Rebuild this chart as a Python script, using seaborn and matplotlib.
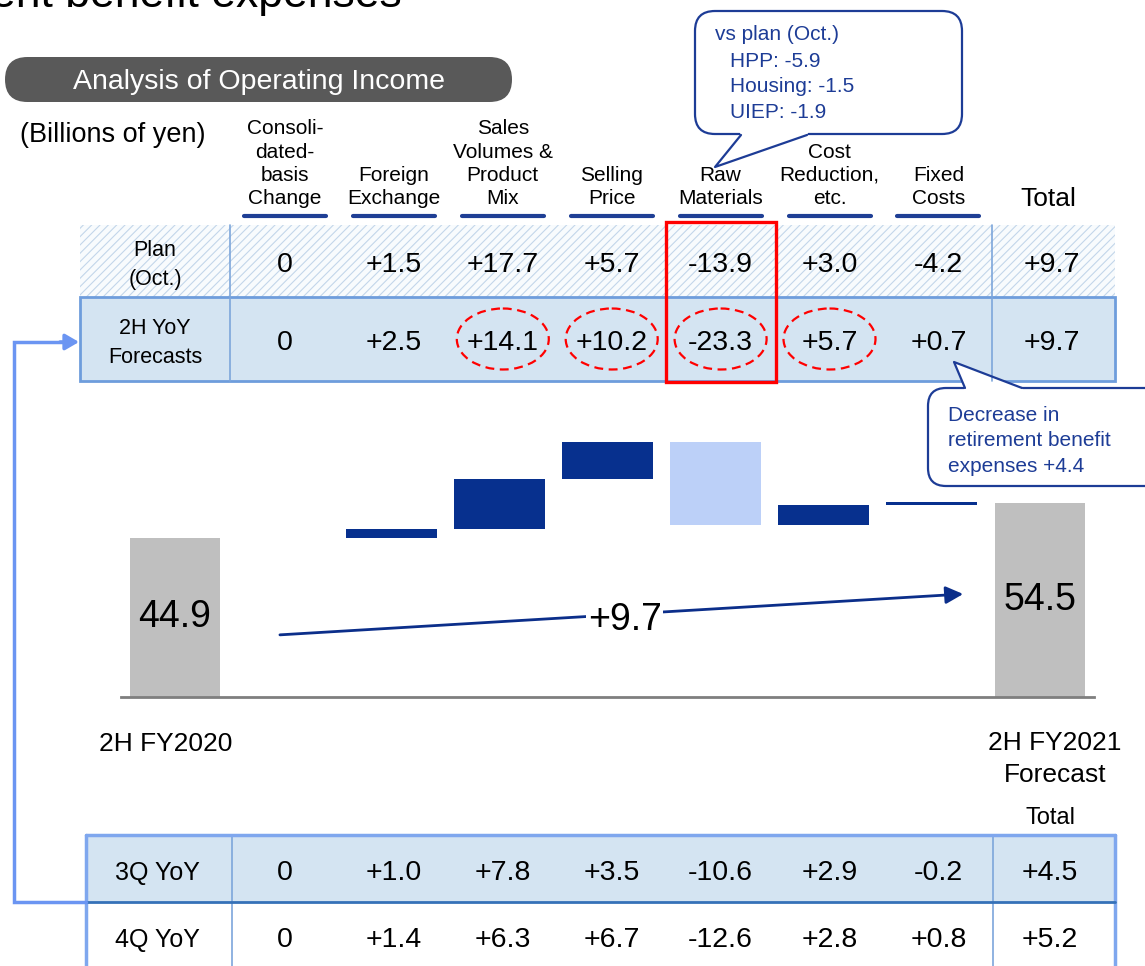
import numpy as np
import matplotlib
matplotlib.use("Agg")
import matplotlib.pyplot as plt
from matplotlib.patches import FancyBboxPatch, Rectangle, Ellipse, Polygon
import seaborn as sns

# Analysis of operating income (billions of yen)
factors = ["Consoli-\ndated-\nbasis\nChange", "Foreign\nExchange", "Sales\nVolumes &\nProduct\nMix",
           "Selling\nPrice", "Raw\nMaterials", "Cost\nReduction,\netc.", "Fixed\nCosts"]
plan_oct = [0, 1.5, 17.7, 5.7, -13.9, 3.0, -4.2]
plan_total = 9.7
yoy_2h = [0, 2.5, 14.1, 10.2, -23.3, 5.7, 0.7]
total_2h = 9.7
yoy_3q = [0, 1.0, 7.8, 3.5, -10.6, 2.9, -0.2]
total_3q = 4.5
yoy_4q = [0, 1.4, 6.3, 6.7, -12.6, 2.8, 0.8]
total_4q = 5.2
fy2020_2h = 44.9
fy2021_2h = 54.5
circled = [2, 3, 4, 5]
boxed = 4
vs_plan = ["HPP: -5.9", "Housing: -1.5", "UIEP: -1.9"]
retire_note = "Decrease in\nretirement benefit\nexpenses +4.4"

NAVY = "#07308E"
LIGHT = "#BCD0F8"
GRAY = "#BFBFBF"
CALLOUT = "#1D3C96"
ROW_FILL = "#D4E4F2"
ROW_EDGE = "#6E9DDC"
LINK = "#6B95F2"


def fmt(v):
    return "0" if v == 0 else f"{v:+.1f}"


def tx(i):
    # column centre of the tables, in pixels
    return 285 + 108.9 * i


sns.set_theme(style="white")
plt.rcParams["font.family"] = ["Liberation Sans", "DejaVu Sans"]
plt.rcParams["text.color"] = "black"
plt.rcParams["hatch.linewidth"] = 0.8

W, H = 1145, 966
fig = plt.figure(figsize=(W / 100, H / 100), dpi=100)

# ---- waterfall ----
wf = fig.add_axes([121 / W, (H - 697) / H, 973 / W, 277 / H])
stages = ["2H FY2020"] + [f.replace("\n", " ") for f in factors] + ["2H FY2021 Forecast"]
steps = np.array(yoy_2h)
before = fy2020_2h + np.concatenate([[0], np.cumsum(steps)[:-1]])
after = before + steps
ends = [fy2020_2h] + [np.nan] * len(steps) + [fy2021_2h]
sns.barplot(x=stages, y=ends, order=stages, color=GRAY, saturation=1, width=0.84,
            linewidth=0, ax=wf)
wf.bar(np.arange(1, len(steps) + 1), np.abs(steps), bottom=np.minimum(before, after),
       width=0.84, linewidth=0, color=[NAVY if v >= 0 else LIGHT for v in steps])
wf.text(0, fy2020_2h / 2, f"{fy2020_2h:.1f}", ha="center", va="center", fontsize=27)
wf.text(len(stages) - 1, fy2021_2h / 2, f"{fy2021_2h:.1f}", ha="center", va="center", fontsize=27)
wf.annotate("", xy=(7.29, 29.0), xytext=(0.97, 17.5),
            arrowprops=dict(arrowstyle="-|>,head_length=0.7,head_width=0.35", color="#0B2E8A",
                            lw=2, shrinkA=0, shrinkB=0, mutation_scale=15))
wf.text(4.16, 21.7, fmt(total_2h), ha="center", va="center", fontsize=27,
        bbox=dict(fc="white", ec="none", pad=1))
wf.set_xlim(-0.5, len(stages) - 0.5)
wf.set_ylim(0, 78)
wf.set(xlabel="", ylabel="", xticks=[], yticks=[])
wf.set_facecolor("none")
sns.despine(ax=wf, left=True)
wf.spines["bottom"].set_color("#7F7F7F")
wf.spines["bottom"].set_linewidth(2)

# ---- overlay in pixel coordinates ----
ov = fig.add_axes([0, 0, 1, 1])
ov.set_xlim(0, W)
ov.set_ylim(H, 0)
ov.set_facecolor("none")
ov.axis("off")

ov.text(402, 7, "Decrease in retirement benefit expenses", ha="right", va="baseline", fontsize=32)
ov.add_patch(FancyBboxPatch((5, 57), 507, 45, boxstyle="round,pad=0,rounding_size=22.5",
                            fc="#595959", ec="none"))
ov.text(259, 82, "Analysis of Operating Income", color="white", ha="center", va="center", fontsize=20.5)
ov.text(113, 135.5, "(Billions of yen)", ha="center", va="center", fontsize=19.5)

# headers
for i, lab in enumerate(factors):
    ov.text(tx(i), 208, lab, ha="center", va="bottom", fontsize=15, linespacing=1.28)
    ov.plot([tx(i) - 41, tx(i) + 41], [216, 216], color="#1F3F95", lw=3, solid_capstyle="round")
ov.text(1048, 199, "Total", ha="center", va="center", fontsize=19)

# top table
ov.add_patch(Rectangle((80, 225), 1035, 72, fc="#F8FBFD", ec="#C3D6EA", hatch="////", lw=0))
ov.add_patch(Rectangle((80, 297), 1035, 84, fc=ROW_FILL, ec="none"))
for xv in (230, 992):
    ov.plot([xv, xv], [225, 381], color="#7DA6DB", lw=1.2)
ov.add_patch(Rectangle((80, 297), 1035, 84, fill=False, ec=ROW_EDGE, lw=2))

ov.text(155, 265, "Plan\n(Oct.)", ha="center", va="center", fontsize=15.5, linespacing=1.5)
ov.text(155, 343, "2H YoY\nForecasts", ha="center", va="center", fontsize=15.5, linespacing=1.5)
for row, tot, yc in [(plan_oct, plan_total, 262), (yoy_2h, total_2h, 340)]:
    for i, v in enumerate(row):
        ov.text(tx(i), yc + 3, fmt(v), ha="center", va="center", fontsize=20.5)
    ov.text(1052, yc + 3, fmt(tot), ha="center", va="center", fontsize=20.5)

for i in circled:
    ov.add_patch(Ellipse((tx(i), 339), 92, 61, fill=False, ec="#FF0000", lw=1.6,
                         ls=(0, (4, 2.5))))
ov.add_patch(Rectangle((tx(boxed) - 55, 222), 110, 160, fill=False, ec="#FF0000", lw=2.4))

# callout: vs plan
ov.add_patch(FancyBboxPatch((695, 11), 267, 123, boxstyle="round,pad=0,rounding_size=20",
                            fc="white", ec=CALLOUT, lw=1.6))
ov.add_patch(Polygon([(739, 131), (809, 131), (807, 135), (715, 167), (741, 135)], fc="white", ec="none"))
ov.plot([741, 715, 807], [135, 167, 135], color=CALLOUT, lw=1.6)
ov.text(715, 35, "vs plan (Oct.)", ha="left", va="center", fontsize=15, color=CALLOUT)
ov.text(730, 87, "\n".join(vs_plan), ha="left", va="center", fontsize=15, color=CALLOUT,
        linespacing=1.41)

# callout: retirement benefit
ov.add_patch(FancyBboxPatch((928, 388), 240, 98, boxstyle="round,pad=0,rounding_size=18",
                            fc="white", ec=CALLOUT, lw=1.6))
ov.add_patch(Polygon([(963, 391), (1024, 391), (1022, 388), (954, 362), (965, 388)], fc="white", ec="none"))
ov.plot([965, 954, 1022], [388, 362, 388], color=CALLOUT, lw=1.6)
ov.text(948, 441, retire_note, ha="left", va="center", fontsize=15, color=CALLOUT, linespacing=1.43)

# stage names under waterfall
ov.text(166, 744, stages[0], ha="center", va="center", fontsize=19)
ov.text(1055, 759, "2H FY2021\nForecast", ha="center", va="center", fontsize=19, linespacing=1.37)
ov.text(1050, 818, "Total", ha="center", va="center", fontsize=17)

# bottom table
ov.add_patch(Rectangle((86, 835), 1029, 67, fc=ROW_FILL, ec="none"))
for xv in (232, 993):
    ov.plot([xv, xv], [835, 966], color="#7DA6DB", lw=1.2)
ov.plot([86, 1115], [835, 835], color="#7FA7EE", lw=2.5)
ov.plot([86, 86], [835, 966], color="#7FA7EE", lw=2.5)
ov.plot([1115, 1115], [835, 966], color="#7FA7EE", lw=2.5)
ov.plot([86, 1115], [902, 902], color="#3571B8", lw=2)
for lab, row, tot, yc in [("3Q YoY", yoy_3q, total_3q, 870), ("4Q YoY", yoy_4q, total_4q, 937)]:
    ov.text(157, yc + 3, lab, ha="center", va="center", fontsize=18)
    for i, v in enumerate(row):
        ov.text(tx(i), yc + 3, fmt(v), ha="center", va="center", fontsize=20.5)
    ov.text(1050, yc + 3, fmt(tot), ha="center", va="center", fontsize=20.5)

# link from quarterly table to 2H row
ov.plot([86, 14, 14, 64], [902, 902, 342, 342], color=LINK, lw=2.5, solid_joinstyle="miter")
ov.annotate("", xy=(79, 342), xytext=(60, 342),
            arrowprops=dict(arrowstyle="-|>,head_length=0.55,head_width=0.32", color=LINK,
                            lw=2.5, shrinkA=0, shrinkB=0, mutation_scale=15))

fig.savefig("out.png", dpi=100)
